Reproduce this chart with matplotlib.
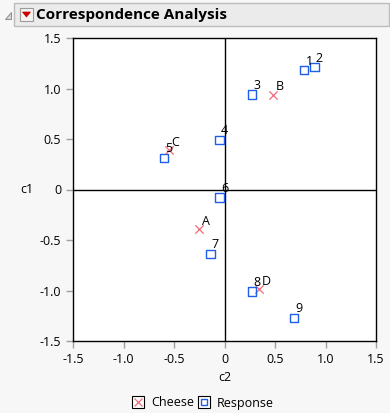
import matplotlib.pyplot as plt
from matplotlib.patches import Rectangle, Polygon
from matplotlib.lines import Line2D
from matplotlib.legend_handler import HandlerTuple

plt.rcParams['font.family'] = ['Open Sans', 'DejaVu Sans']

# Cheese (row) points
cheese = ["A", "B", "C", "D"]
cheese_c2 = [-0.25, 0.48, -0.55, 0.34]
cheese_c1 = [-0.39, 0.94, 0.39, -0.99]

# Response (column) points
resp = ["1", "2", "3", "4", "5", "6", "7", "8", "9"]
resp_c2 = [0.79, 0.89, 0.27, -0.05, -0.60, -0.05, -0.14, 0.27, 0.69]
resp_c1 = [1.18, 1.21, 0.94, 0.49, 0.31, -0.08, -0.64, -1.01, -1.27]

ticks = [-1.5, -1.0, -0.5, 0, 0.5, 1.0, 1.5]
tick_labels = ["-1.5", "-1.0", "-0.5", "0", "0.5", "1.0", "1.5"]

RED = "#f06b7a"
BLUE = "#1f5fe6"

W, H = 390, 413
fig = plt.figure(figsize=(W / 100, H / 100), dpi=100, facecolor="#f7f7f7")

# header bar
fig.add_artist(Rectangle((14 / W, 1 - 26 / H), 375 / W, 23 / H, transform=fig.transFigure,
                         facecolor="#ebebeb", edgecolor="#bcbcbc", lw=1))
fig.add_artist(Polygon([(5 / W, 1 - 19 / H), (11 / W, 1 - 19 / H), (11 / W, 1 - 12 / H)],
                       closed=True, transform=fig.transFigure,
                       facecolor="#d8d8d8", edgecolor="#808080", lw=0.6))
fig.add_artist(Rectangle((20 / W, 1 - 21 / H), 13 / W, 13 / H, transform=fig.transFigure,
                         facecolor="#f4f4f4", edgecolor="#9a9a9a", lw=0.8))
fig.add_artist(Polygon([(22.5 / W, 1 - 12 / H), (30.5 / W, 1 - 12 / H), (26.5 / W, 1 - 17 / H)],
                       closed=True, transform=fig.transFigure,
                       facecolor="#cc0000", edgecolor="#cc0000", lw=0.5))
fig.text(36 / W, 1 - 15 / H, "Correspondence Analysis", fontsize=11, fontweight="bold",
         va="center", ha="left", color="black")

ax = fig.add_axes([73 / W, 1 - 341 / H, 303 / W, 303 / H])
ax.set_facecolor("white")
ax.set_xlim(-1.5, 1.5)
ax.set_ylim(-1.5, 1.5)
ax.axhline(0, color="black", lw=1)
ax.axvline(0, color="black", lw=1)

ax.scatter(cheese_c2, cheese_c1, marker="x", s=36, color=RED, lw=0.9, zorder=3)
ax.scatter(resp_c2, resp_c1, marker="s", s=36, facecolors="none", edgecolors=BLUE,
           lw=1.0, zorder=3)

for lab, x, y in zip(cheese, cheese_c2, cheese_c1):
    ax.annotate(lab, (x, y), xytext=(2, 1), textcoords="offset points",
                fontsize=9, ha="left", va="bottom")
for lab, x, y in zip(resp, resp_c2, resp_c1):
    ax.annotate(lab, (x, y), xytext=(1, 2), textcoords="offset points",
                fontsize=9, ha="left", va="bottom")

ax.set_xticks(ticks)
ax.set_xticklabels(tick_labels)
ax.set_yticks(ticks)
ax.set_yticklabels(tick_labels)
ax.tick_params(length=5, color="#a0a0a0", labelsize=9, width=1)
for s in ax.spines.values():
    s.set_color("black")
    s.set_linewidth(1)

ax.set_xlabel("c2", fontsize=9, labelpad=4)
ax.set_ylabel("c1", fontsize=9, rotation=0, labelpad=9, va="center")

# legend with boxed swatches
box1 = Line2D([], [], marker="s", ls="none", markersize=9, markerfacecolor="white",
              markeredgecolor="black", markeredgewidth=0.8)
box2 = Line2D([], [], marker="s", ls="none", markersize=9, markerfacecolor="white",
              markeredgecolor="black", markeredgewidth=0.8)
m1 = Line2D([], [], marker="x", ls="none", color=RED, markersize=6, markeredgewidth=0.9)
m2 = Line2D([], [], marker="s", ls="none", markerfacecolor="none",
            markeredgecolor=BLUE, markersize=5, markeredgewidth=1.0)
fig.legend([(box1, m1), (box2, m2)], ["Cheese", "Response"], loc="center",
           bbox_to_anchor=(0.52, 1 - 403 / H), ncol=2, frameon=False, fontsize=9,
           handlelength=1, handletextpad=0.5, columnspacing=0.3,
           handler_map={tuple: HandlerTuple(ndivide=1, pad=0)})

fig.savefig("out.png", dpi=100, facecolor=fig.get_facecolor())
